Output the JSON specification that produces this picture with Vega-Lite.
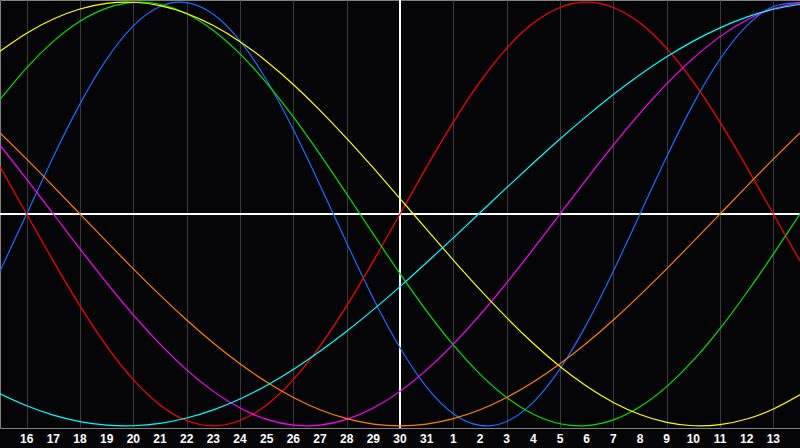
{
  "$schema": "https://vega.github.io/schema/vega-lite/v6.json",
  "width": 800,
  "height": 428,
  "padding": {"left": 0, "top": 0, "right": 0, "bottom": 20},
  "autosize": "none",
  "background": "#050508",
  "config": {"view": {"stroke": "#808080", "strokeWidth": 1, "fill": "#050508"}},
  "datasets": {
    "days": [
      {"t":1,"day":"16"},{"t":2,"day":"17"},{"t":3,"day":"18"},{"t":4,"day":"19"},{"t":5,"day":"20"},{"t":6,"day":"21"},{"t":7,"day":"22"},{"t":8,"day":"23"},{"t":9,"day":"24"},{"t":10,"day":"25"},{"t":11,"day":"26"},{"t":12,"day":"27"},{"t":13,"day":"28"},{"t":14,"day":"29"},{"t":15,"day":"30"},{"t":16,"day":"31"},{"t":17,"day":"1"},{"t":18,"day":"2"},{"t":19,"day":"3"},{"t":20,"day":"4"},{"t":21,"day":"5"},{"t":22,"day":"6"},{"t":23,"day":"7"},{"t":24,"day":"8"},{"t":25,"day":"9"},{"t":26,"day":"10"},{"t":27,"day":"11"},{"t":28,"day":"12"},{"t":29,"day":"13"}
    ],
    "cycles": [
    {"t":0,"s":"physical","v":-0.2698},{"t":1,"s":"physical","v":0},{"t":2,"s":"physical","v":0.2698},{"t":3,"s":"physical","v":0.5196},{"t":4,"s":"physical","v":0.7308},{"t":5,"s":"physical","v":0.8879},{"t":6,"s":"physical","v":0.9791},{"t":7,"s":"physical","v":0.9977},{"t":8,"s":"physical","v":0.9423},{"t":9,"s":"physical","v":0.817},{"t":10,"s":"physical","v":0.6311},{"t":11,"s":"physical","v":0.3984},{"t":12,"s":"physical","v":0.1362},{"t":13,"s":"physical","v":-0.1362},{"t":14,"s":"physical","v":-0.3984},{"t":15,"s":"physical","v":-0.6311},{"t":16,"s":"physical","v":-0.817},{"t":17,"s":"physical","v":-0.9423},{"t":18,"s":"physical","v":-0.9977},{"t":19,"s":"physical","v":-0.9791},{"t":20,"s":"physical","v":-0.8879},{"t":21,"s":"physical","v":-0.7308},{"t":22,"s":"physical","v":-0.5196},{"t":23,"s":"physical","v":-0.2698},{"t":24,"s":"physical","v":0},{"t":25,"s":"physical","v":0.2698},{"t":26,"s":"physical","v":0.5196},{"t":27,"s":"physical","v":0.7308},{"t":28,"s":"physical","v":0.8879},{"t":29,"s":"physical","v":0.9791},{"t":30,"s":"physical","v":0.9977},
    {"t":0,"s":"emotional","v":0.2225},{"t":1,"s":"emotional","v":0},{"t":2,"s":"emotional","v":-0.2225},{"t":3,"s":"emotional","v":-0.4339},{"t":4,"s":"emotional","v":-0.6235},{"t":5,"s":"emotional","v":-0.7818},{"t":6,"s":"emotional","v":-0.901},{"t":7,"s":"emotional","v":-0.9749},{"t":8,"s":"emotional","v":-1},{"t":9,"s":"emotional","v":-0.9749},{"t":10,"s":"emotional","v":-0.901},{"t":11,"s":"emotional","v":-0.7818},{"t":12,"s":"emotional","v":-0.6235},{"t":13,"s":"emotional","v":-0.4339},{"t":14,"s":"emotional","v":-0.2225},{"t":15,"s":"emotional","v":0},{"t":16,"s":"emotional","v":0.2225},{"t":17,"s":"emotional","v":0.4339},{"t":18,"s":"emotional","v":0.6235},{"t":19,"s":"emotional","v":0.7818},{"t":20,"s":"emotional","v":0.901},{"t":21,"s":"emotional","v":0.9749},{"t":22,"s":"emotional","v":1},{"t":23,"s":"emotional","v":0.9749},{"t":24,"s":"emotional","v":0.901},{"t":25,"s":"emotional","v":0.7818},{"t":26,"s":"emotional","v":0.6235},{"t":27,"s":"emotional","v":0.4339},{"t":28,"s":"emotional","v":0.2225},{"t":29,"s":"emotional","v":0},{"t":30,"s":"emotional","v":-0.2225},
    {"t":0,"s":"intellectual","v":0.5406},{"t":1,"s":"intellectual","v":0.6901},{"t":2,"s":"intellectual","v":0.8146},{"t":3,"s":"intellectual","v":0.9096},{"t":4,"s":"intellectual","v":0.9718},{"t":5,"s":"intellectual","v":0.9989},{"t":6,"s":"intellectual","v":0.9898},{"t":7,"s":"intellectual","v":0.945},{"t":8,"s":"intellectual","v":0.866},{"t":9,"s":"intellectual","v":0.7557},{"t":10,"s":"intellectual","v":0.6182},{"t":11,"s":"intellectual","v":0.4582},{"t":12,"s":"intellectual","v":0.2817},{"t":13,"s":"intellectual","v":0.0951},{"t":14,"s":"intellectual","v":-0.0951},{"t":15,"s":"intellectual","v":-0.2817},{"t":16,"s":"intellectual","v":-0.4582},{"t":17,"s":"intellectual","v":-0.6182},{"t":18,"s":"intellectual","v":-0.7557},{"t":19,"s":"intellectual","v":-0.866},{"t":20,"s":"intellectual","v":-0.945},{"t":21,"s":"intellectual","v":-0.9898},{"t":22,"s":"intellectual","v":-0.9989},{"t":23,"s":"intellectual","v":-0.9718},{"t":24,"s":"intellectual","v":-0.9096},{"t":25,"s":"intellectual","v":-0.8146},{"t":26,"s":"intellectual","v":-0.6901},{"t":27,"s":"intellectual","v":-0.5406},{"t":28,"s":"intellectual","v":-0.3717},{"t":29,"s":"intellectual","v":-0.1893},{"t":30,"s":"intellectual","v":0},
    {"t":0,"s":"intuitive","v":0.3247},{"t":1,"s":"intuitive","v":0.1646},{"t":2,"s":"intuitive","v":0},{"t":3,"s":"intuitive","v":-0.1646},{"t":4,"s":"intuitive","v":-0.3247},{"t":5,"s":"intuitive","v":-0.4759},{"t":6,"s":"intuitive","v":-0.6142},{"t":7,"s":"intuitive","v":-0.7357},{"t":8,"s":"intuitive","v":-0.8372},{"t":9,"s":"intuitive","v":-0.9158},{"t":10,"s":"intuitive","v":-0.9694},{"t":11,"s":"intuitive","v":-0.9966},{"t":12,"s":"intuitive","v":-0.9966},{"t":13,"s":"intuitive","v":-0.9694},{"t":14,"s":"intuitive","v":-0.9158},{"t":15,"s":"intuitive","v":-0.8372},{"t":16,"s":"intuitive","v":-0.7357},{"t":17,"s":"intuitive","v":-0.6142},{"t":18,"s":"intuitive","v":-0.4759},{"t":19,"s":"intuitive","v":-0.3247},{"t":20,"s":"intuitive","v":-0.1646},{"t":21,"s":"intuitive","v":0},{"t":22,"s":"intuitive","v":0.1646},{"t":23,"s":"intuitive","v":0.3247},{"t":24,"s":"intuitive","v":0.4759},{"t":25,"s":"intuitive","v":0.6142},{"t":26,"s":"intuitive","v":0.7357},{"t":27,"s":"intuitive","v":0.8372},{"t":28,"s":"intuitive","v":0.9158},{"t":29,"s":"intuitive","v":0.9694},{"t":30,"s":"intuitive","v":0.9966},
    {"t":0,"s":"aesthetic","v":0.7685},{"t":1,"s":"aesthetic","v":0.8533},{"t":2,"s":"aesthetic","v":0.9204},{"t":3,"s":"aesthetic","v":0.9675},{"t":4,"s":"aesthetic","v":0.994},{"t":5,"s":"aesthetic","v":0.9993},{"t":6,"s":"aesthetic","v":0.9834},{"t":7,"s":"aesthetic","v":0.9465},{"t":8,"s":"aesthetic","v":0.8894},{"t":9,"s":"aesthetic","v":0.8134},{"t":10,"s":"aesthetic","v":0.72},{"t":11,"s":"aesthetic","v":0.6112},{"t":12,"s":"aesthetic","v":0.4894},{"t":13,"s":"aesthetic","v":0.3572},{"t":14,"s":"aesthetic","v":0.2174},{"t":15,"s":"aesthetic","v":0.073},{"t":16,"s":"aesthetic","v":-0.073},{"t":17,"s":"aesthetic","v":-0.2174},{"t":18,"s":"aesthetic","v":-0.3572},{"t":19,"s":"aesthetic","v":-0.4894},{"t":20,"s":"aesthetic","v":-0.6112},{"t":21,"s":"aesthetic","v":-0.72},{"t":22,"s":"aesthetic","v":-0.8134},{"t":23,"s":"aesthetic","v":-0.8894},{"t":24,"s":"aesthetic","v":-0.9465},{"t":25,"s":"aesthetic","v":-0.9834},{"t":26,"s":"aesthetic","v":-0.9993},{"t":27,"s":"aesthetic","v":-0.994},{"t":28,"s":"aesthetic","v":-0.9675},{"t":29,"s":"aesthetic","v":-0.9204},{"t":30,"s":"aesthetic","v":-0.8533},
    {"t":0,"s":"awareness","v":0.3827},{"t":1,"s":"awareness","v":0.2588},{"t":2,"s":"awareness","v":0.1305},{"t":3,"s":"awareness","v":0},{"t":4,"s":"awareness","v":-0.1305},{"t":5,"s":"awareness","v":-0.2588},{"t":6,"s":"awareness","v":-0.3827},{"t":7,"s":"awareness","v":-0.5},{"t":8,"s":"awareness","v":-0.6088},{"t":9,"s":"awareness","v":-0.7071},{"t":10,"s":"awareness","v":-0.7934},{"t":11,"s":"awareness","v":-0.866},{"t":12,"s":"awareness","v":-0.9239},{"t":13,"s":"awareness","v":-0.9659},{"t":14,"s":"awareness","v":-0.9914},{"t":15,"s":"awareness","v":-1},{"t":16,"s":"awareness","v":-0.9914},{"t":17,"s":"awareness","v":-0.9659},{"t":18,"s":"awareness","v":-0.9239},{"t":19,"s":"awareness","v":-0.866},{"t":20,"s":"awareness","v":-0.7934},{"t":21,"s":"awareness","v":-0.7071},{"t":22,"s":"awareness","v":-0.6088},{"t":23,"s":"awareness","v":-0.5},{"t":24,"s":"awareness","v":-0.3827},{"t":25,"s":"awareness","v":-0.2588},{"t":26,"s":"awareness","v":-0.1305},{"t":27,"s":"awareness","v":0},{"t":28,"s":"awareness","v":0.1305},{"t":29,"s":"awareness","v":0.2588},{"t":30,"s":"awareness","v":0.3827},
    {"t":0,"s":"spiritual","v":-0.8487},{"t":1,"s":"spiritual","v":-0.9053},{"t":2,"s":"spiritual","v":-0.9492},{"t":3,"s":"spiritual","v":-0.9798},{"t":4,"s":"spiritual","v":-0.9966},{"t":5,"s":"spiritual","v":-0.9994},{"t":6,"s":"spiritual","v":-0.9881},{"t":7,"s":"spiritual","v":-0.963},{"t":8,"s":"spiritual","v":-0.9245},{"t":9,"s":"spiritual","v":-0.8729},{"t":10,"s":"spiritual","v":-0.809},{"t":11,"s":"spiritual","v":-0.7337},{"t":12,"s":"spiritual","v":-0.6482},{"t":13,"s":"spiritual","v":-0.5537},{"t":14,"s":"spiritual","v":-0.4514},{"t":15,"s":"spiritual","v":-0.3427},{"t":16,"s":"spiritual","v":-0.2291},{"t":17,"s":"spiritual","v":-0.1124},{"t":18,"s":"spiritual","v":0.0059},{"t":19,"s":"spiritual","v":0.1242},{"t":20,"s":"spiritual","v":0.2406},{"t":21,"s":"spiritual","v":0.3538},{"t":22,"s":"spiritual","v":0.4618},{"t":23,"s":"spiritual","v":0.5636},{"t":24,"s":"spiritual","v":0.6573},{"t":25,"s":"spiritual","v":0.7418},{"t":26,"s":"spiritual","v":0.816},{"t":27,"s":"spiritual","v":0.8786},{"t":28,"s":"spiritual","v":0.9289},{"t":29,"s":"spiritual","v":0.9662},{"t":30,"s":"spiritual","v":0.9899}
    ]
  },
  "data": {"name": "cycles"},
  "layer": [
    {
      "mark": {"type": "rule", "color": "#ffffff", "strokeWidth": 1.5},
      "encoding": {"y": {"datum": 0, "type": "quantitative", "scale": {"domain": [-1.01, 1.01], "nice": false, "zero": false}, "axis": null}}
    },
    {
      "mark": {"type": "rule", "color": "#ffffff", "strokeWidth": 1.5},
      "encoding": {"x": {"datum": 15, "type": "quantitative"}}
    },
    {
      "mark": {"type": "line", "strokeWidth": 1.2, "interpolate": "natural", "clip": true},
      "encoding": {
        "x": {
          "field": "t", "type": "quantitative",
          "scale": {"domain": [0, 30], "nice": false, "zero": false},
          "axis": {
            "values": [1,2,3,4,5,6,7,8,9,10,11,12,13,14,15,16,17,18,19,20,21,22,23,24,25,26,27,28,29],
            "grid": true, "gridColor": "#3a3a3a", "gridWidth": 1, "gridOpacity": 1,
            "ticks": false, "domain": false, "title": null, "labels": false
          }
        },
        "y": {"field": "v", "type": "quantitative", "scale": {"domain": [-1.01, 1.01], "nice": false, "zero": false}, "axis": null},
        "color": {
          "field": "s", "type": "nominal", "legend": null,
          "scale": {
            "domain": ["spiritual", "awareness", "intuitive", "aesthetic", "intellectual", "emotional", "physical"],
            "range": ["#00ffff", "#ff8000", "#ff00ff", "#ffff00", "#00e000", "#ff0000", "#1a6cff"]
          }
        }
      }
    },
    {
      "data": {"name": "days"},
      "mark": {"type": "text", "color": "#ffffff", "font": "Liberation Sans", "fontWeight": "bold", "fontSize": 12, "baseline": "middle", "align": "center", "dy": 11},
      "encoding": {
        "x": {"field": "t", "type": "quantitative"},
        "y": {"datum": -1.01, "type": "quantitative"},
        "text": {"field": "day", "type": "nominal"}
      }
    }
  ]
}
